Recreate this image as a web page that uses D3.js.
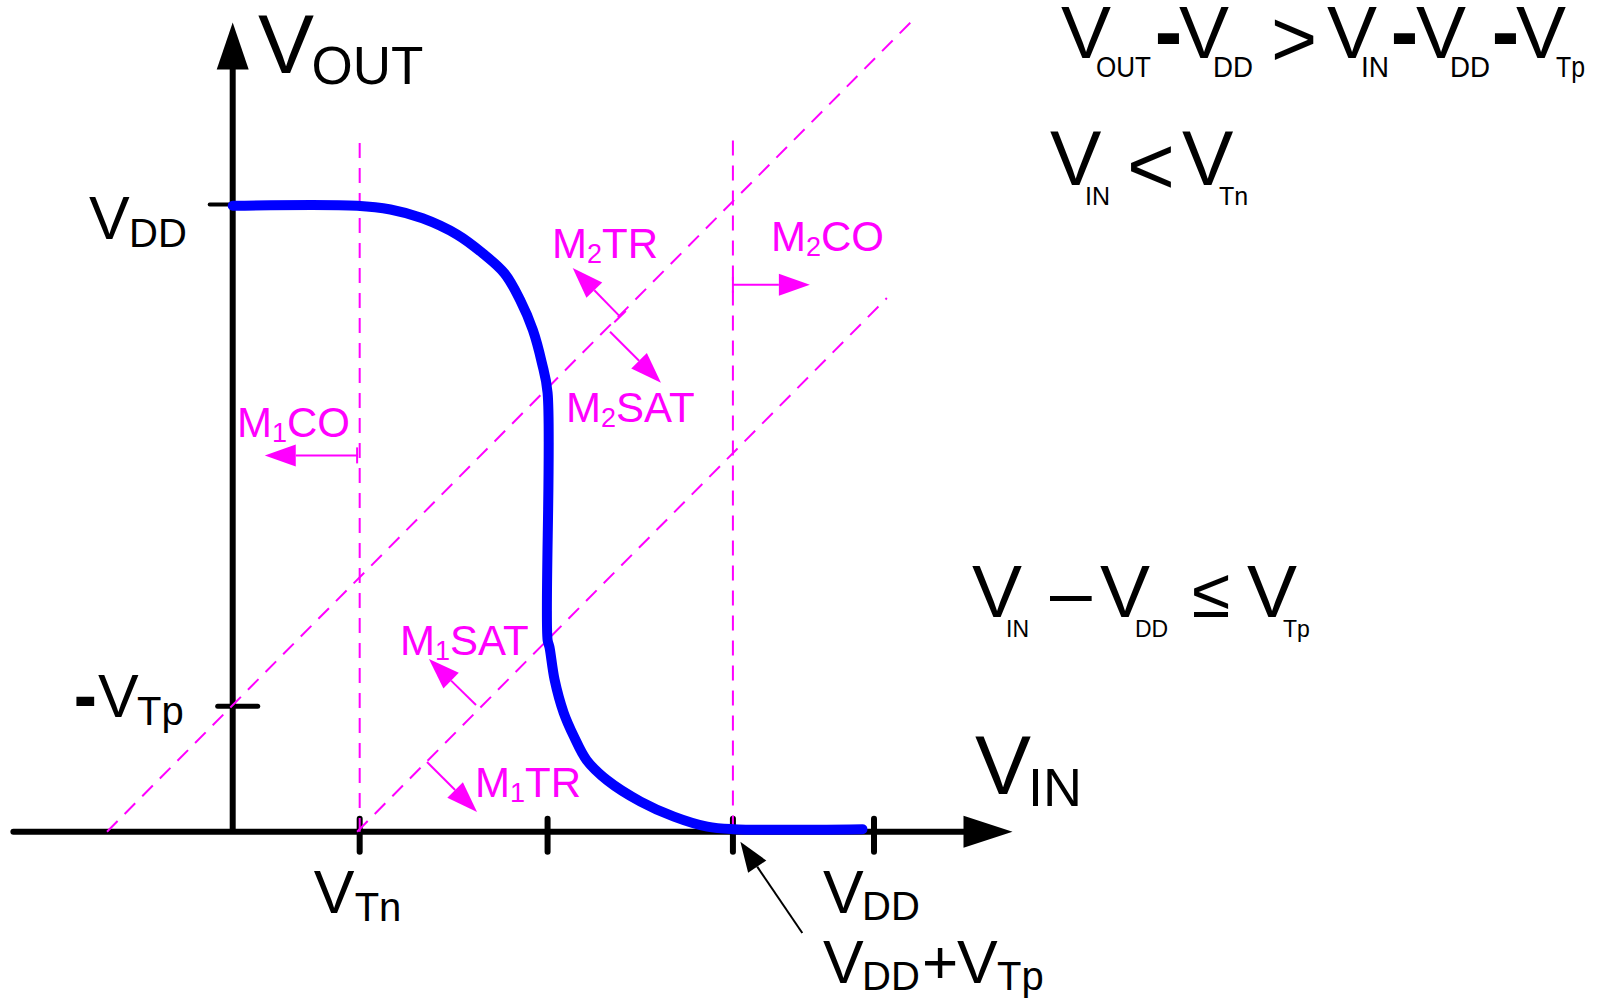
<!DOCTYPE html>
<html>
<head>
<meta charset="utf-8">
<script src="https://cdn.jsdelivr.net/npm/d3@7"></script>
<style>
  html, body { margin: 0; padding: 0; background: #ffffff; }
  svg { display: block; font-family: "Liberation Sans", Arial, sans-serif; }
</style>
</head>
<body>
<svg id="chart" width="1606" height="998"></svg>
<script>
// CMOS inverter voltage transfer characteristic (units: volts, VDD = 5)

// Output curve: Vin -> Vout
const vinCurve  = [0.00, 0.97, 1.23, 1.48, 1.75, 1.95, 2.12, 2.24, 2.34, 2.41, 2.455, 2.455, 2.47, 2.51, 2.58, 2.66, 2.76, 2.92, 3.18, 3.44, 3.70, 3.90, 4.91];
const voutCurve = [4.99, 4.99, 4.96, 4.89, 4.76, 4.61, 4.45, 4.24, 4.00, 3.74, 3.50, 1.53, 1.47, 1.21, 0.95, 0.76, 0.57, 0.41, 0.24, 0.12, 0.04, 0.02, 0.02];

// Axis extents
const vinAxis  = [-1.71, 6.08];
const voutAxis = [0, 6.45];

// Tick positions: VTn, switching point, VDD+VTp, VDD on Vin; -VTp, VDD on Vout
const vinTicks  = [0.99, 2.455, 3.90, 5.00];
const voutTicks = [1.00, 5.00];

// Vertical region boundaries (Vin = VTn, Vin = VDD + VTp)
const boundaryVin  = [0.99, 3.90];
const boundaryTop  = [5.49, 5.51];

// Diagonal region boundaries: Vout = Vin - VTp and Vout = Vin - VTn
const diagVin  = [[-0.98, 5.285], [0.97, 5.10]];
const diagVout = [[0.00, 6.451], [0.00, 4.254]];

// Region arrows, [from, to] in (Vin, Vout)
const regionNames = ["M1CO", "M2CO", "M2TR", "M2SAT", "M1SAT", "M1TR"];
const arrowFrom = [[0.97, 3.00], [3.90, 4.36], [3.02, 4.106], [2.942, 3.986], [1.897, 1.010], [1.515, 0.556]];
const arrowTo   = [[0.25, 3.00], [4.50, 4.36], [2.651, 4.494], [3.339, 3.579], [1.530, 1.377], [1.905, 0.157]];

// Pointer to the VDD + VTp tick
const pointerFrom = [4.441, -0.808];
const pointerTo   = [3.958, -0.081];

const svg = d3.select("#chart");

const x = d3.scaleLinear().domain([0, 5]).range([232.7, 874]);
const y = d3.scaleLinear().domain([0, 5]).range([831.7, 204.5]);

const BLACK = "#000000", MAGENTA = "#ff00ff", BLUE = "#0000ff";

function arrow(g, x1, y1, x2, y2, color, width, headLen, headHalf, tick) {
  const dx = x2 - x1, dy = y2 - y1, L = Math.hypot(dx, dy);
  const ux = dx / L, uy = dy / L;
  const bx = x2 - ux * headLen, by = y2 - uy * headLen;
  g.append("line")
    .attr("x1", x1).attr("y1", y1).attr("x2", bx).attr("y2", by)
    .attr("stroke", color).attr("stroke-width", width);
  g.append("path")
    .attr("d", `M${x2},${y2}L${bx - uy * headHalf},${by + ux * headHalf}L${bx + uy * headHalf},${by - ux * headHalf}Z`)
    .attr("fill", color);
  if (tick) {
    g.append("line")
      .attr("x1", x1 - uy * tick).attr("y1", y1 + ux * tick)
      .attr("x2", x1 + uy * tick).attr("y2", y1 - ux * tick)
      .attr("stroke", color).attr("stroke-width", width);
  }
}

// ---- axes ----
const axes = svg.append("g");
axes.append("line")
  .attr("x1", x(vinAxis[0])).attr("y1", y(0))
  .attr("x2", x(vinAxis[1]) - 45).attr("y2", y(0))
  .attr("stroke", BLACK).attr("stroke-width", 6).attr("stroke-linecap", "round");
axes.append("path")
  .attr("d", `M${x(vinAxis[1])},${y(0)}L${x(vinAxis[1]) - 49},${y(0) - 16}L${x(vinAxis[1]) - 49},${y(0) + 16}Z`)
  .attr("fill", BLACK);
axes.append("line")
  .attr("x1", x(0)).attr("y1", y(0))
  .attr("x2", x(0)).attr("y2", y(voutAxis[1]) + 44)
  .attr("stroke", BLACK).attr("stroke-width", 6);
axes.append("path")
  .attr("d", `M${x(0)},${y(voutAxis[1])}L${x(0) - 16},${y(voutAxis[1]) + 47}L${x(0) + 16},${y(voutAxis[1]) + 47}Z`)
  .attr("fill", BLACK);

// ticks on Vin
axes.selectAll(".xt").data(vinTicks).join("line")
  .attr("x1", d => x(d)).attr("x2", d => x(d))
  .attr("y1", y(0) - 13).attr("y2", y(0) + 20)
  .attr("stroke", BLACK).attr("stroke-width", 6).attr("stroke-linecap", "round");
// ticks on Vout: -VTp spans both sides, VDD only to the left
axes.append("line")
  .attr("x1", x(0) - 15).attr("x2", x(0) + 25)
  .attr("y1", y(voutTicks[0])).attr("y2", y(voutTicks[0]))
  .attr("stroke", BLACK).attr("stroke-width", 5).attr("stroke-linecap", "round");
axes.append("line")
  .attr("x1", x(0) - 23).attr("x2", x(0))
  .attr("y1", y(voutTicks[1])).attr("y2", y(voutTicks[1]))
  .attr("stroke", BLACK).attr("stroke-width", 4).attr("stroke-linecap", "round");

// ---- region boundaries ----
const bounds = svg.append("g")
  .attr("stroke", MAGENTA).attr("stroke-width", 2).attr("stroke-dasharray", "15,10").attr("fill", "none");
boundaryVin.forEach((v, i) => {
  bounds.append("line")
    .attr("x1", x(v)).attr("x2", x(v))
    .attr("y1", y(boundaryTop[i])).attr("y2", y(0));
});
diagVin.forEach((vs, i) => {
  bounds.append("line")
    .attr("x1", x(vs[0])).attr("y1", y(diagVout[i][0]))
    .attr("x2", x(vs[1])).attr("y2", y(diagVout[i][1]));
});

// ---- transfer curve ----
const curve = vinCurve.map((v, i) => [v, voutCurve[i]]);
svg.append("path")
  .datum(curve)
  .attr("d", d3.line().x(d => x(d[0])).y(d => y(d[1])).curve(d3.curveCatmullRom.alpha(0.5)))
  .attr("fill", "none").attr("stroke", BLUE).attr("stroke-width", 10)
  .attr("stroke-linecap", "round").attr("stroke-linejoin", "round");

// ---- region arrows ----
const arrows = svg.append("g");
const tickLen = { M1CO: 8, M2CO: 8, M2TR: 8 };
regionNames.forEach((n, i) => {
  arrow(arrows, x(arrowFrom[i][0]), y(arrowFrom[i][1]), x(arrowTo[i][0]), y(arrowTo[i][1]),
        MAGENTA, 2, 31, 11, tickLen[n] || 0);
});
arrow(arrows, x(pointerFrom[0]), y(pointerFrom[1]), x(pointerTo[0]), y(pointerTo[1]), BLACK, 2, 30, 11, 0);

// ---- text ----
const txt = svg.append("g");
function put(s, px, py, size, opts = {}) {
  const t = txt.append("text")
    .attr("x", px).attr("y", py)
    .attr("font-size", size)
    .attr("fill", opts.fill || BLACK)
    .text(s);
  if (opts.bold) t.attr("font-weight", "bold");
  if (opts.stroke) t.attr("stroke", opts.fill || BLACK).attr("stroke-width", opts.stroke);
  if (opts.ls !== undefined) t.attr("letter-spacing", opts.ls);
  if (opts.len) t.attr("textLength", opts.len).attr("lengthAdjust", "spacingAndGlyphs");
  return t;
}

// axis titles
put("V", 258, 72.7, 84);
put("OUT", 311.5, 84, 53);
put("V", 975, 794, 84);
put("IN", 1028, 806, 54);

// tick labels
put("V", 89, 239, 61);
put("DD", 129, 247, 40);
put("-", 75, 717, 62, { bold: true, stroke: 2 });
put("V", 98, 717, 61);
put("Tp", 137, 725, 40);
put("V", x(vinTicks[0]) - 46, 913, 61);
put("Tn", x(vinTicks[0]) - 5, 921, 40);
put("V", x(vinTicks[3]) - 51, 913, 61);
put("DD", x(vinTicks[3]) - 12, 920, 40);
put("V", 823, 983, 61);
put("DD", 862, 990, 40);
put("+", 922, 983, 62);
put("V", 957, 983, 61);
put("Tp", 997, 990, 40);

// region names
const regionText = { M1CO: [237, 437], M2CO: [771, 251], M2TR: [552, 258], M2SAT: [566, 422], M1SAT: [400, 655], M1TR: [475, 797] };
regionNames.forEach(n => {
  const [px, py] = regionText[n];
  const t = txt.append("text").attr("x", px).attr("y", py).attr("font-size", 42).attr("fill", MAGENTA);
  t.append("tspan").text("M");
  t.append("tspan").attr("font-size", 27).attr("dy", 5).text(n[1]);
  t.append("tspan").attr("dy", -5).text(n.slice(2));
});

// conditions: Vout - VDD > Vin - VDD - VTp
const F = 75, S = 30, B1 = 57.5, b1 = 76.7;
put("V", 1061, B1, F);
put("OUT", 1096, b1, S, { len: 55 });
put("-", 1156, B1, F, { bold: true, stroke: 2 });
put("V", 1179, B1, F);
put("DD", 1213, b1, S, { len: 40 });
put(">", 1271, 66, 79);
put("V", 1327, B1, F);
put("IN", 1361, b1, S, { len: 28 });
put("-", 1392, B1, F, { bold: true, stroke: 2 });
put("V", 1416, B1, F);
put("DD", 1450, b1, S, { len: 40 });
put("-", 1493, B1, F, { bold: true, stroke: 2 });
put("V", 1516, B1, F);
put("Tp", 1556, b1, S, { len: 29 });

// Vin < VTn
put("V", 1050, 185, 77);
put("IN", 1085, 205, 25);
put("<", 1127, 194.4, 82);
put("V", 1182, 185, 77);
put("Tn", 1219, 205, 25);

// Vin - VDD <= VTp
put("V", 972, 617, F);
put("IN", 1006, 637, 23);
put("\u2013", 1050, 617, F);
put("V", 1100, 617, F);
put("DD", 1135, 637, 23);
put("\u2264", 1192, 617, 70);
put("V", 1247, 617, F);
put("Tp", 1283, 637, 23);
</script>
</body>
</html>
